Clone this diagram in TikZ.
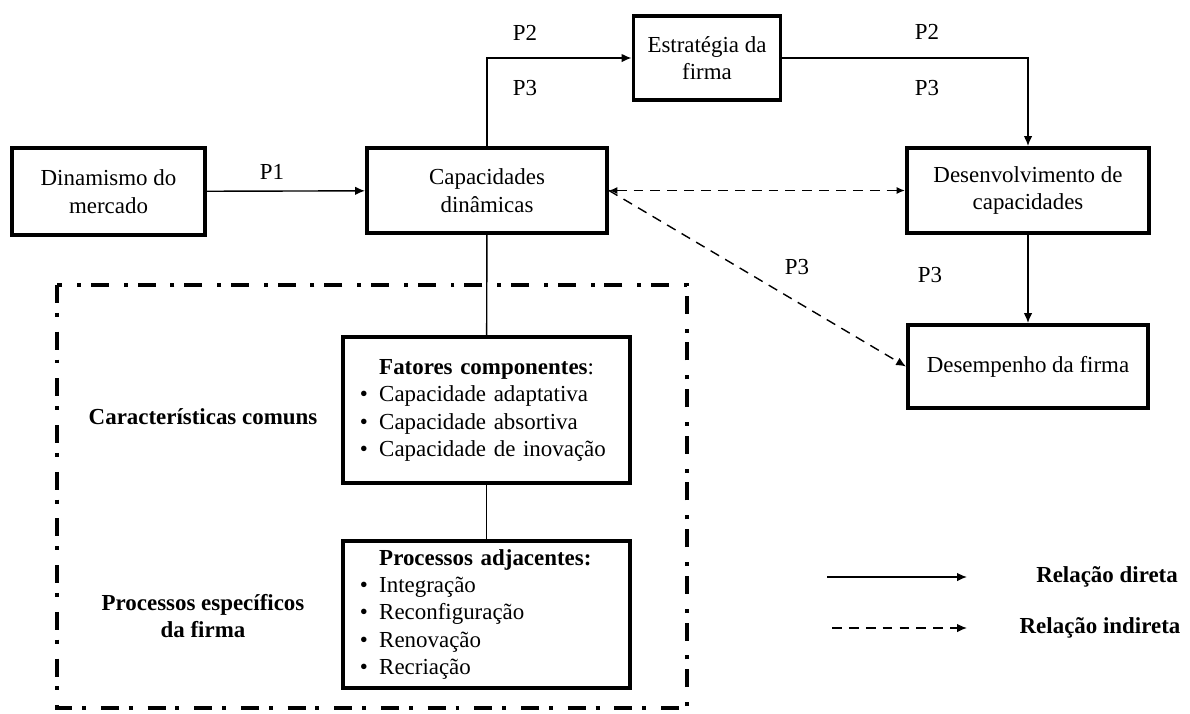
\documentclass[tikz,border=0pt]{standalone}
\usepackage{fontspec}
\setmainfont{Liberation Serif}
\usetikzlibrary{arrows.meta}
\newcommand{\tam}{\fontsize{16.3}{19.5}\selectfont}
\begin{document}
\begin{tikzpicture}[x=0.025cm, y=-0.025cm, font=\tam]
 \tikzset{caixa/.style={draw, line width=2.8pt, align=center, inner sep=2pt},
          lista/.style={caixa, align=left, text width=6.325cm, inner xsep=0.425cm},
          moldura/.style={line width=2.8pt, dash pattern=on 12.8pt off 7pt on 2.8pt off 10.6pt},
          indireta/.style={dash pattern=on 7pt off 5pt}}
  \useasboundingbox (0,0) rectangle (1190,713);
  \node[caixa, minimum width=4.825cm, minimum height=2.175cm] (Dinamismo) at (108.5,191.5) {Dinamismo do\\mercado};
  \node[caixa, minimum width=6cm, minimum height=2.125cm] (Capacidades) at (487,190.5) {Capacidades\\dinâmicas};
  \node[caixa, minimum width=3.675cm, minimum height=2.1cm] (Estrategia) at (707,58) {Estratégia da\\firma};
  \node[caixa, minimum width=6.05cm, minimum height=2.125cm] (Desenvolvimento) at (1028,190.5) {Desenvolvimento de\\capacidades};
  \node[caixa, minimum width=6cm, minimum height=2.075cm] (Desempenho) at (1028,366.5) {Desempenho da firma};
  \node[lista, minimum height=3.65cm] (Fatores) at (486.5,410) {\begin{tabular}{@{}l@{\hspace{8pt}}l@{}}
    & \textbf{Fatores componentes}:\\
    \textbullet & Capacidade adaptativa\\
    \textbullet & Capacidade absortiva\\
    \textbullet & Capacidade de inovação
  \end{tabular}};
  \node[lista, minimum height=3.675cm] (Processos) at (486.5,614.5) {\begin{tabular}{@{}l@{\hspace{8pt}}l@{}}
    & \textbf{Processos adjacentes:}\\
    \textbullet & Integração\\
    \textbullet & Reconfiguração\\
    \textbullet & Renovação\\
    \textbullet & Recriação
  \end{tabular}};
  % moldura das capacidades
  \draw[moldura] (57,285) rectangle (687,708);
  \node[font=\tam\bfseries] (Comuns) at (203,417) {Características comuns};
  \node[font=\tam\bfseries, align=center] (Especificos) at (203,616) {Processos específicos\\da firma};
  % relacoes
  \draw[->,>={Latex[length=7pt,width=6pt]}, line width=1pt] (Dinamismo) -- (Capacidades);
  \draw[->,>={Latex[length=7pt,width=6pt]}, line width=1pt] (Capacidades.north) |- (Estrategia.west);
  \draw[->,>={Latex[length=7pt,width=6pt]}, line width=1pt] (Estrategia.east) -| (Desenvolvimento.north);
  \draw[->,>={Latex[length=7pt,width=6pt]}, line width=1pt] (Desenvolvimento) -- (Desempenho);
  \draw[<->,>={Latex[length=6pt,width=5pt]}, line width=1pt, indireta] (Capacidades.east) -- (Desenvolvimento.west);
  \draw[->,>={Latex[length=7pt,width=6pt]}, line width=1pt, indireta] (Capacidades.east) -- (Desempenho.west);
  \draw[line width=1pt] (Capacidades) -- (Fatores);
  \draw[line width=1pt] (Fatores) -- (Processos);
  \node (P1) at (272,172) {P1};
  \node (P2a) at (525,33) {P2};
  \node (P3a) at (525,88) {P3};
  \node (P2b) at (927,32) {P2};
  \node (P3b) at (927,88) {P3};
  \node (P3c) at (930,275) {P3};
  \node (P3d) at (797,267) {P3};
  % legenda
  \coordinate (DiretaIni) at (827,577);
  \coordinate (DiretaFim) at (967,577);
  \coordinate (IndiretaIni) at (832,628);
  \coordinate (IndiretaFim) at (967,628);
  \draw[->,>={Latex[length=7pt,width=6pt]}, line width=1pt] (DiretaIni) -- (DiretaFim);
  \draw[->,>={Latex[length=7pt,width=6pt]}, line width=1pt, indireta] (IndiretaIni) -- (IndiretaFim);
  \node[font=\tam\bfseries] (Direta) at (1107,577) {Relação direta};
  \node[font=\tam\bfseries] (Indireta) at (1100,628) {Relação indireta};
\end{tikzpicture}
\end{document}
